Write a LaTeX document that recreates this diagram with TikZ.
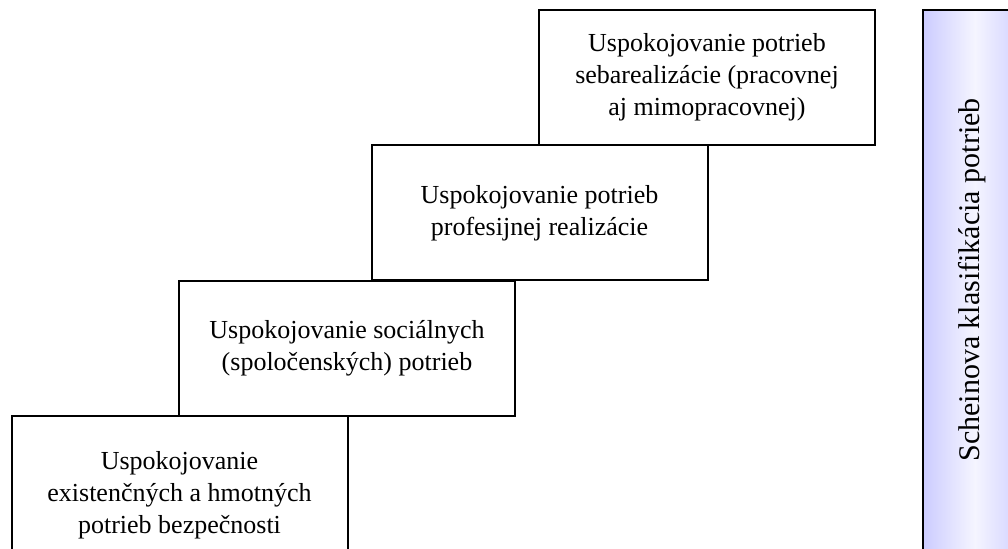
\documentclass[tikz,border=0pt]{standalone}
\usepackage{fontspec}
\setmainfont{Liberation Serif}
\usepackage{tikz}
\usetikzlibrary{positioning}

\begin{document}
\begin{tikzpicture}[
  x=0.5pt, y=-0.5pt,
  needbox/.style={draw=black, line width=1pt, rectangle, fill=white,
                  minimum width=168pt, minimum height=67.5pt, inner sep=0pt,
                  align=center, font=\fontsize{13}{16}\selectfont},
  classbox/.style={draw=black, line width=1pt, rectangle, inner sep=0pt,
                   left color=blue!20, right color=blue!20, middle color=blue!4,
                   minimum width=52pt, minimum height=285pt},
  classtext/.style={rotate=90, font=\fontsize{15}{18}\selectfont}
]

% ===== rozmery obrazka =====
\useasboundingbox (0,0) rectangle (1008,549);

% ===== schody potrieb =====
\node[needbox, minimum height=79pt] (N1) at (179.5, 495)
  {Uspokojovanie\\existenčných a hmotných\\potrieb bezpečnosti};
\node[needbox] (N2) at (347, 348.5)
  {Uspokojovanie sociálnych\\(spoločenských) potrieb};
\node[needbox] (N3) at (539.5, 213)
  {Uspokojovanie potrieb\\profesijnej realizácie};
\node[needbox] (N4) at (707, 77.5)
  {Uspokojovanie potrieb\\sebarealizácie (pracovnej\\aj mimopracovnej)};

% ===== bocny pas =====
\node[classbox] (side) at (975, 295) {};
\node[classtext] (sidetext) at (972, 280) {Scheinova klasifikácia potrieb};

\end{tikzpicture}
\end{document}
